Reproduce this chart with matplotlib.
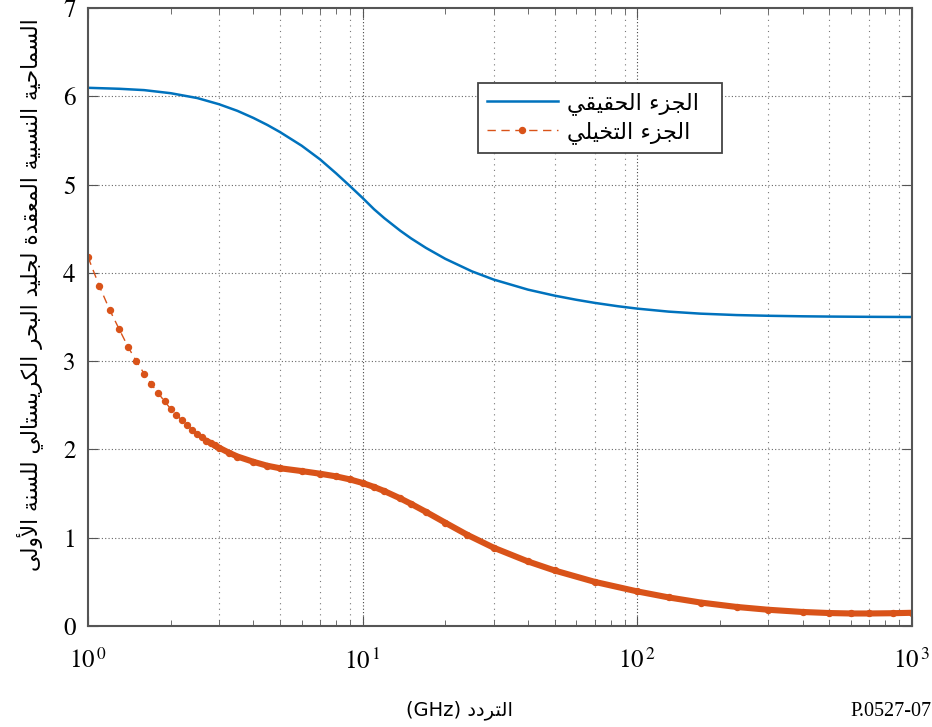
import numpy as np
import matplotlib.pyplot as plt
from matplotlib.ticker import FixedLocator, FixedFormatter, LogLocator, NullFormatter

# действительная часть (GHz -> eps')
freq_re = [1, 1.3, 1.6, 2, 2.5, 3, 3.5, 4, 4.5, 5, 6, 7, 8, 9, 10, 11, 12,
           13.7, 15, 17, 20, 25, 30, 40, 50, 60, 70, 85, 100, 130, 170, 230,
           300, 400, 500, 700, 1000]
eps_re = [6.096, 6.085, 6.070, 6.035, 5.980, 5.910, 5.835, 5.755, 5.675,
          5.595, 5.440, 5.285, 5.128, 4.982, 4.848, 4.721, 4.619, 4.478,
          4.391, 4.283, 4.159, 4.017, 3.924, 3.810, 3.742, 3.695, 3.660,
          3.622, 3.595, 3.561, 3.538, 3.522, 3.514, 3.508, 3.505, 3.502,
          3.500]

# мнимая часть
freq_im = [1.0, 1.1, 1.2, 1.3, 1.4, 1.5, 1.6, 1.7, 1.8, 1.9, 2.0, 2.1, 2.2,
           2.3, 2.4, 2.5, 2.6, 2.7, 2.8, 2.9, 3.0, 3.25, 3.5, 4, 4.5, 5, 6,
           7, 8, 9, 10, 11, 12, 13.7, 15, 17, 20, 24, 30, 40, 50, 70, 100,
           130, 170, 230, 300, 400, 500, 600, 700, 850, 1000]
eps_im = [4.18, 3.85, 3.58, 3.36, 3.16, 3.00, 2.86, 2.74, 2.64, 2.545, 2.46,
          2.39, 2.33, 2.275, 2.22, 2.18, 2.14, 2.10, 2.07, 2.045, 2.02, 1.965,
          1.92, 1.86, 1.815, 1.787, 1.755, 1.725, 1.695, 1.66, 1.62, 1.575,
          1.528, 1.446, 1.384, 1.293, 1.170, 1.034, 0.887, 0.731, 0.629,
          0.500, 0.392, 0.324, 0.266, 0.216, 0.184, 0.159, 0.147, 0.142,
          0.142, 0.145, 0.150]

x_ticks = [1, 10, 100, 1000]
x_labels = [r'$10^{\,0}$', r'$10^{\,1}$', r'$10^{\,2}$', r'$10^{\,3}$']
y_ticks = [0, 1, 2, 3, 4, 5, 6, 7]

label_re = 'الجزء الحقيقي'
label_im = 'الجزء التخيلي'
x_title = 'التردد'
y_title = 'السماحية النسبية المعقدة لجليد البحر الكريستالي للسنة الأولى'

# формы арабских букв (изолированная форма, число форм)
AR_FORMS = {
    'ء': (0xFE80, 1), 'أ': (0xFE83, 2), 'ا': (0xFE8D, 2), 'ب': (0xFE8F, 4),
    'ة': (0xFE93, 2), 'ت': (0xFE95, 4), 'ج': (0xFE9D, 4), 'ح': (0xFEA1, 4),
    'خ': (0xFEA5, 4), 'د': (0xFEA9, 2), 'ر': (0xFEAD, 2), 'ز': (0xFEAF, 2),
    'س': (0xFEB1, 4), 'ع': (0xFEC9, 4), 'ق': (0xFED5, 4), 'ك': (0xFED9, 4),
    'ل': (0xFEDD, 4), 'م': (0xFEE1, 4), 'ن': (0xFEE5, 4), 'و': (0xFEED, 2),
    'ى': (0xFEEF, 2), 'ي': (0xFEF1, 4),
}
LAM_ALEF = {'ا': 0xFEFB, 'أ': 0xFEF7}


def shape_ar(text):
    """Соединяет арабские буквы и переворачивает строку (matplotlib не умеет RTL)"""
    out = []
    i, n = 0, len(text)
    prev_joins = False
    while i < n:
        ch = text[i]
        if ch not in AR_FORMS:
            out.append(ch)
            prev_joins = False
            i += 1
            continue
        if ch == 'ل' and i + 1 < n and text[i + 1] in LAM_ALEF:
            out.append(chr(LAM_ALEF[text[i + 1]] + (1 if prev_joins else 0)))
            prev_joins = False
            i += 2
            continue
        base, nf = AR_FORMS[ch]
        nxt = text[i + 1] if i + 1 < n else ''
        next_joins = nf == 4 and nxt in AR_FORMS and AR_FORMS[nxt][1] >= 2
        if nf == 1:
            form = 0
        elif prev_joins and next_joins:
            form = 3
        elif prev_joins:
            form = 1
        elif next_joins:
            form = 2
        else:
            form = 0
        out.append(chr(base + form))
        prev_joins = next_joins
        i += 1
    return ''.join(reversed(out))


plt.rcParams['mathtext.fontset'] = 'stix'
AR_FONT = ['DejaVu Sans']
BLUE = '#0072BD'
ORANGE = '#D95319'
SPINE = '#555555'

fig = plt.figure(figsize=(9.32, 7.27), dpi=100)
ax = fig.add_axes([0.0944, 0.1389, 0.8841, 0.8501])

# сетка
for d in [1, 10, 100]:
    for m in [3, 5, 7, 9]:
        ax.axvline(m * d, color='#777777', lw=0.8, ls=(0, (1, 4)), zorder=0)
for d in [10, 100]:
    ax.axvline(d, color='#444444', lw=0.8, ls=(0, (1, 2)), zorder=0)
for v in y_ticks[1:-1]:
    ax.axhline(v, color='#666666', lw=0.8, ls=(0, (1, 2)), zorder=0)

ax.plot(freq_re, eps_re, color=BLUE, lw=1.8,
        label=shape_ar(label_re) + '  ')

f_im = np.array(freq_im)
e_im = np.array(eps_im)
ax.plot(f_im, e_im, color=ORANGE, lw=1.0, ls=(0, (6, 4)), marker='o',
        ms=4.3, label=shape_ar(label_im) + '  ')
dense = f_im >= 2.7
ax.plot(f_im[dense], e_im[dense], color=ORANGE, lw=4.4, solid_capstyle='round')

ax.set_xscale('log')
ax.set_xlim(1, 1000)
ax.set_ylim(0, 7)

ax.xaxis.set_major_locator(FixedLocator(x_ticks))
ax.xaxis.set_major_formatter(FixedFormatter(x_labels))
ax.xaxis.set_minor_locator(LogLocator(base=10, subs=np.arange(2, 10)))
ax.xaxis.set_minor_formatter(NullFormatter())
ax.set_yticks(y_ticks)

ax.tick_params(which='both', direction='in', top=True, right=True,
               color=SPINE, labelsize=18)
ax.tick_params(axis='x', which='major', length=7, pad=16)
ax.tick_params(axis='x', which='minor', length=4)
ax.tick_params(axis='y', which='major', length=7, pad=9)
for lab in ax.get_yticklabels():
    lab.set_fontfamily('STIXGeneral')

for s in ax.spines.values():
    s.set_color(SPINE)
    s.set_linewidth(1.5)

leg = ax.legend(loc='upper left', bbox_to_anchor=(0.473, 0.879),
                borderaxespad=0, fancybox=False, framealpha=1,
                edgecolor='#444444', numpoints=1, handlelength=3.2,
                prop={'family': AR_FONT, 'size': 16}, labelspacing=0.3,
                borderpad=0.4, handletextpad=0.4)
leg.get_frame().set_linewidth(1.3)

fig.text(30 / 932, 1 - 295 / 727, shape_ar(y_title), rotation=90,
         ha='center', va='center', fontsize=15.5, family=AR_FONT)
fig.text(460 / 932, 1 - 710 / 727, '(GHz) ' + shape_ar(x_title),
         ha='center', va='center', fontsize=14, family=AR_FONT)
fig.text(0.999, 1 - 712 / 727, 'P.0527-07', ha='right', va='center',
         fontsize=14.5, family='Liberation Serif')

fig.savefig('out.png', dpi=100)
